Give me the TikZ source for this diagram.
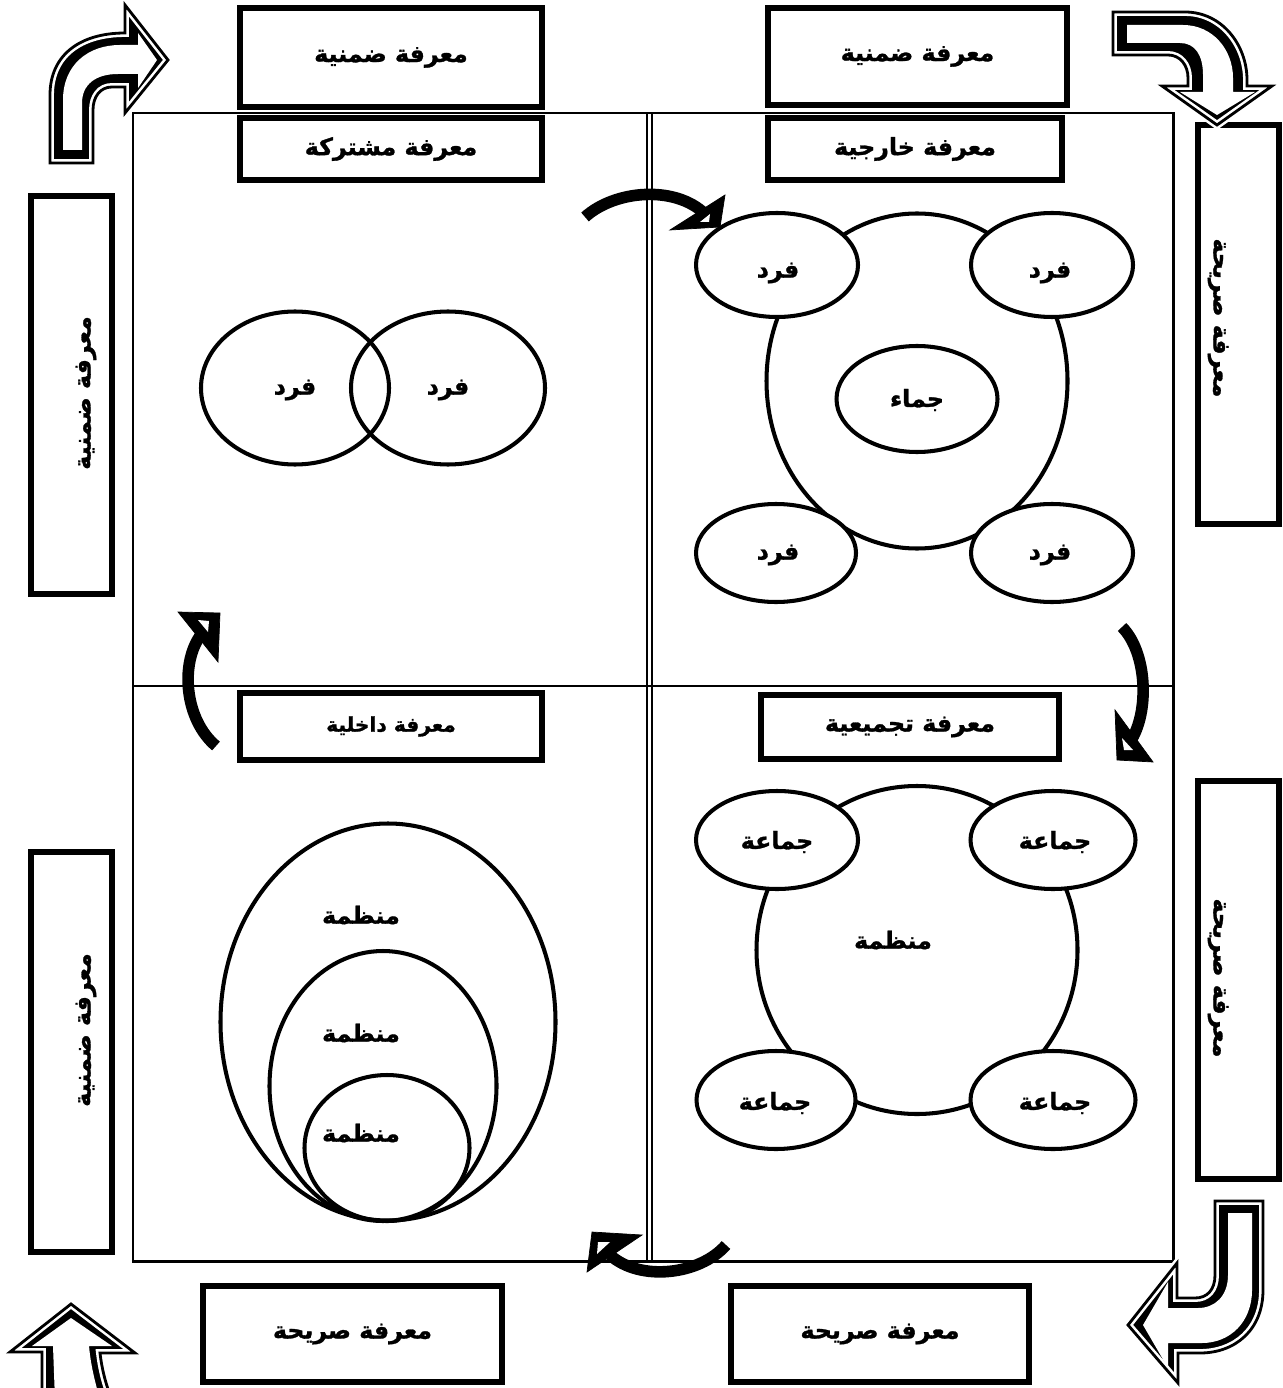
\documentclass[tikz,border=0pt]{standalone}
\usepackage{fontspec}
\newfontfamily\arfont[Script=Arabic, BoldFeatures={FakeBold=1.2}]{DejaVu Sans}
\TeXXeTstate=1
\usetikzlibrary{shapes.geometric}
\newcommand\AR[1]{{\arfont\bfseries\beginR #1\endR}}
\newcommand\mkbox[6]{\node[boxst, minimum width={(#4-#2-6)*0.02cm}, minimum height={(#5-#3-6)*0.02cm}] (#1) at ({(#2+#4)/2},{(#3+#5)/2}) {#6};}
\newcommand\mkell[6]{\node[ellst,#6, minimum width={(#4-2)*0.02cm}, minimum height={(#5-2)*0.02cm}] (#1) at (#2,#3) {};}
\newcommand\fancyarrow[2]{%
  \fill[black] #1;
  \draw[white, line width=4.5pt, line join=miter] #1;
  \draw[black, line width=1.6pt, line join=miter] #1;
  \fill[white] #2;}
\tikzset{
  boxst/.style={draw, line width=3.4pt, fill=white, inner sep=0, align=center, font=\fontsize{13.5}{15}\selectfont},
  ellst/.style={ellipse, draw, line width=2.3pt, inner sep=0},
  lbl/.style={inner sep=0, font=\fontsize{13.5}{15}\selectfont},
  curvearr/.style={line width=6.6pt},
  headst/.style={fill=black}
}
\begin{document}
\begin{tikzpicture}[x=0.02cm,y=-0.02cm]
\path[use as bounding box] (0,0) rectangle (1283,1388);
\clip (0,0) rectangle (1283,1388);
\fill[white] (0,0) rectangle (1283,1388);

% main frame
\draw[line width=1.7pt] (133,113) rectangle (1173,1261);
\draw[line width=0.8pt] (647,113) -- (647,1261);
\draw[line width=0.8pt] (652,113) -- (652,1261);
\draw[line width=1.5pt] (133,686) -- (1173,686);

% top-left quadrant
\mkell{fa}{295}{388}{190}{155}{}
\mkell{fb}{448}{388}{196}{155}{}
\node[lbl] (tfa) at (295,390) {\AR{فرد}};
\node[lbl] (tfb) at (448,390) {\AR{فرد}};

% top-right quadrant
\mkell{bigA}{917}{381}{303}{337}{}
\mkell{gA}{777}{265}{164}{106}{fill=white}
\mkell{gB}{1052}{265}{164}{106}{fill=white}
\mkell{gC}{776}{553}{162}{100}{fill=white}
\mkell{gD}{1052}{553}{164}{100}{fill=white}
\mkell{gM}{917}{399}{163}{108}{fill=white}
\node[lbl] (tgA) at (778,273) {\AR{فرد}};
\node[lbl] (tgB) at (1050,273) {\AR{فرد}};
\node[lbl] (tgC) at (778,555) {\AR{فرد}};
\node[lbl] (tgD) at (1050,555) {\AR{فرد}};
\node[lbl] (tgM) at (917,400) {\AR{جماء}};

% bottom-right quadrant
\mkell{bigB}{917}{950}{323}{330}{}
\mkell{hA}{777}{840}{164}{100}{fill=white}
\mkell{hB}{1053}{840}{167}{100}{fill=white}
\mkell{hC}{776}{1100}{161}{100}{fill=white}
\mkell{hD}{1053}{1100}{167}{100}{fill=white}
\node[lbl] (thA) at (777,842) {\AR{جماعة}};
\node[lbl] (thB) at (1055,842) {\AR{جماعة}};
\node[lbl] (thC) at (775,1103) {\AR{جماعة}};
\node[lbl] (thD) at (1055,1103) {\AR{جماعة}};
\node[lbl] (thM) at (893,940) {\AR{منظمة}};

% bottom-left quadrant
\mkell{oA}{388}{1022}{337}{399}{}
\mkell{oB}{383}{1086}{229}{272}{}
\mkell{oC}{387}{1148}{167}{148}{}
\node[lbl] (toA) at (361,915) {\AR{منظمة}};
\node[lbl] (toB) at (361,1033) {\AR{منظمة}};
\node[lbl] (toC) at (361,1133) {\AR{منظمة}};

% curved arrows
\draw[curvearr] (585,217) .. controls (615,190) and (675,185) .. (705,214);
\filldraw[headst] (670,230) -- (725,195) -- (720,227) -- cycle;
\fill[white] (700,222) -- (710,214) -- (709,222) -- cycle;

\draw[curvearr] (1122,627) .. controls (1147,652) and (1150,712) .. (1130,742);
\filldraw[headst] (1115,710) -- (1117,760) -- (1153,762) -- cycle;
\fill[white] (1122,738) -- (1124,750) -- (1133,750) -- cycle;

\draw[curvearr] (726,1245) .. controls (700,1275) and (640,1282) .. (610,1255);
\filldraw[headst] (592,1232) -- (587,1272) -- (642,1235) -- cycle;
\fill[white] (598,1242) -- (597,1254) -- (610,1242) -- cycle;

\draw[curvearr] (216,746) .. controls (185,720) and (180,665) .. (200,636);
\filldraw[headst] (178,612) -- (220,613) -- (218,662) -- cycle;
\fill[white] (198,620) -- (209,621) -- (208,632) -- cycle;

% boxes
\mkbox{bTL}{237}{5}{545}{110}{\AR{معرفة ضمنية}}
\mkbox{bTR}{765}{5}{1070}{108}{\AR{معرفة ضمنية}}
\mkbox{bSh}{237}{115}{545}{183}{\AR{معرفة مشتركة}}
\mkbox{bEx}{765}{115}{1065}{183}{\AR{معرفة خارجية}}
\mkbox{bIn}{237}{690}{545}{763}{\fontsize{11.5}{13}\selectfont\AR{معرفة داخلية}}
\mkbox{bCo}{758}{692}{1062}{762}{\AR{معرفة تجميعية}}
\mkbox{bBL}{200}{1283}{505}{1385}{\AR{معرفة صريحة}}
\mkbox{bBR}{728}{1283}{1032}{1385}{\AR{معرفة صريحة}}
\mkbox{vL1}{28}{193}{115}{597}{}
\mkbox{vL2}{28}{849}{115}{1255}{}
\mkbox{vR1}{1195}{122}{1282}{527}{}
\mkbox{vR2}{1195}{778}{1282}{1182}{}
\node[lbl, rotate=90] (tL1) at (86,393) {\AR{معرفة ضمنية}};
\node[lbl, rotate=90] (tL2) at (86,1030) {\AR{معرفة ضمنية}};
\node[lbl, rotate=-90] (tR1) at (1218,318) {\AR{معرفة صريحة}};
\node[lbl, rotate=-90] (tR2) at (1218,978) {\AR{معرفة صريحة}};

% corner arrows
\fancyarrow{(50,163) -- (50,95) .. controls (50,55) and (80,33) .. (125,33) -- (125,5) -- (168,60) -- (125,113) -- (125,87) -- (112,87) .. controls (100,87) and (93,97) .. (93,110) -- (93,163) -- cycle}
{(63,150) -- (63,100) .. controls (63,65) and (88,45) .. (120,45) -- (138,45) -- (138,33) -- (157,60) -- (138,88) -- (138,74) -- (118,74) .. controls (95,74) and (82,85) .. (82,103) -- (82,150) -- cycle}

\fancyarrow{(1113,12) -- (1185,12) .. controls (1222,12) and (1247,45) .. (1247,80) -- (1247,86) -- (1272,86) -- (1217,125) -- (1162,86) -- (1188,86) -- (1188,78) .. controls (1188,65) and (1180,55) .. (1168,55) -- (1113,55) -- cycle}
{(1127,25) -- (1183,25) .. controls (1213,25) and (1233,50) .. (1233,78) -- (1233,92) -- (1255,92) -- (1217,115) -- (1180,92) -- (1203,92) -- (1203,75) .. controls (1203,55) and (1195,43) .. (1180,43) -- (1127,43) -- cycle}

\fancyarrow{(1215,1201) -- (1263,1201) -- (1263,1290) .. controls (1263,1330) and (1235,1353) .. (1200,1353) -- (1178,1353) -- (1178,1383) -- (1128,1325) -- (1177,1263) -- (1177,1298) -- (1195,1298) .. controls (1207,1298) and (1215,1290) .. (1215,1275) -- cycle}
{(1228,1213) -- (1252,1213) -- (1252,1290) .. controls (1252,1322) and (1230,1343) .. (1202,1343) -- (1168,1343) -- (1168,1368) -- (1143,1325) -- (1168,1282) -- (1168,1308) -- (1198,1308) .. controls (1215,1308) and (1228,1296) .. (1228,1275) -- cycle}

\fancyarrow{(42,1400) -- (42,1352) -- (10,1352) -- (71,1304) -- (135,1353) -- (100,1353) .. controls (102,1370) and (106,1385) .. (112,1400) -- cycle}
{(55,1400) -- (53,1346) -- (32,1346) -- (71,1318) -- (112,1346) -- (89,1346) .. controls (91,1368) and (96,1385) .. (100,1400) -- cycle}
\end{tikzpicture}
\end{document}
